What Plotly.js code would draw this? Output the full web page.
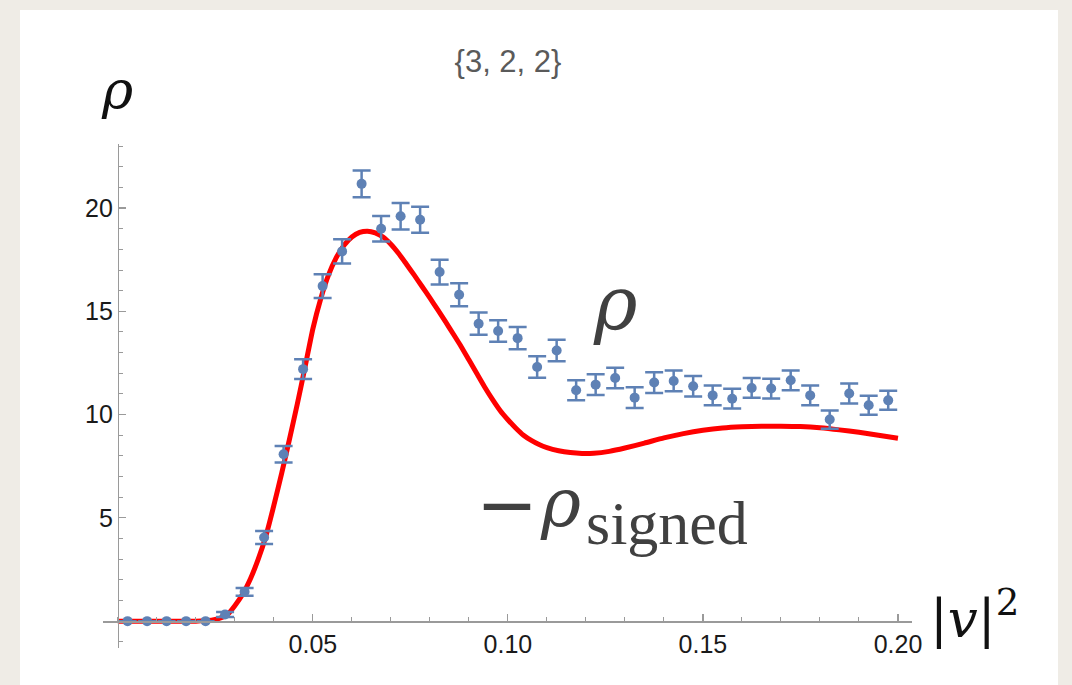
<!DOCTYPE html>
<html>
<head>
<meta charset="utf-8">
<script src="https://cdn.plot.ly/plotly-3.0.1.min.js"></script>
<style>
  html, body { margin: 0; padding: 0; background: #efece6; width: 1072px; height: 685px; overflow: hidden; }
  #panel { position: absolute; left: 20px; top: 10px; width: 1038px; height: 675px; background: #ffffff; }
  #chart { position: absolute; left: 0; top: 0; width: 1072px; height: 685px; }
</style>
</head>
<body>
<div id="panel"></div>
<div id="chart"></div>
<script>
// ---- data ----
const pointX = [0.0025,0.0075,0.0125,0.0175,0.0225,0.0275,0.0325,0.0375,0.0425,0.0475,
                0.0525,0.0575,0.0625,0.0675,0.0725,0.0775,0.0825,0.0875,0.0925,0.0975,
                0.1025,0.1075,0.1125,0.1175,0.1225,0.1275,0.1325,0.1375,0.1425,0.1475,
                0.1525,0.1575,0.1625,0.1675,0.1725,0.1775,0.1825,0.1875,0.1925,0.1975];
const pointY = [0,0,0,0,0,0.32,1.42,4.05,8.08,12.2,
                16.22,17.9,21.17,19.0,19.6,19.43,16.9,15.8,14.4,14.05,
                13.7,12.3,13.1,11.18,11.45,11.77,10.82,11.55,11.63,11.37,
                10.93,10.77,11.29,11.26,11.66,10.93,9.76,11.02,10.45,10.69];
const pointErr = [0,0,0,0,0,0.12,0.19,0.31,0.4,0.48,
                  0.58,0.59,0.65,0.62,0.64,0.63,0.6,0.56,0.54,0.52,
                  0.54,0.52,0.52,0.48,0.5,0.5,0.5,0.5,0.5,0.5,
                  0.48,0.48,0.48,0.48,0.48,0.48,0.44,0.48,0.46,0.46];

const curveX = [0,0.005,0.010,0.015,0.020,0.024,0.026,0.028,0.030,0.032,0.034,0.036,0.038,0.040,
                0.042,0.044,0.046,0.048,0.050,0.052,0.054,0.056,0.058,0.060,0.062,0.064,0.066,
                0.068,0.070,0.072,0.074,0.076,0.078,0.080,0.082,0.084,0.086,0.088,0.090,0.092,
                0.094,0.096,0.098,0.100,0.102,0.104,0.106,0.108,0.110,0.113,0.116,0.119,0.122,
                0.126,0.130,0.135,0.140,0.145,0.150,0.155,0.160,0.165,0.170,0.175,0.180,0.185,
                0.190,0.195,0.200];
const curveY = [0,0,0,0,0,0.05,0.14,0.3,0.75,1.3,2.05,3.0,4.15,5.6,
                7.15,8.8,10.5,12.3,14.15,15.6,16.75,17.6,18.2,18.6,18.82,18.88,18.8,
                18.6,18.25,17.8,17.28,16.75,16.2,15.65,15.08,14.5,13.9,13.3,12.65,12.0,
                11.35,10.75,10.2,9.75,9.35,9.0,8.75,8.55,8.4,8.25,8.16,8.12,8.13,
                8.22,8.38,8.62,8.87,9.08,9.24,9.35,9.41,9.44,9.44,9.42,9.36,9.26,
                9.14,9.0,8.85];

const xTicks = [0.05, 0.10, 0.15, 0.20];
const xTickText = ["0.05", "0.10", "0.15", "0.20"];
const yTicks = [5, 10, 15, 20];
const yTickText = ["5", "10", "15", "20"];
const titleText = "{3, 2, 2}";

// ---- layout geometry ----
const W = 1072, H = 685;
const xRange = [-0.0038, 0.2036];
const yRange = [-1.3, 23.1];
const M = { l: 103, r: 160, t: 143.5, b: 37 };
const pw = W - M.l - M.r, ph = H - M.t - M.b;
function px2paperX(px) { return (px - M.l) / pw; }
function px2paperY(py) { return (H - M.b - py) / ph; }

const blue = '#5e81b5';
const axisGrey = '#9a9a9a';
const serifMath = 'DejaVu Serif, serif';
const serifText = 'Liberation Serif, Times New Roman, serif';

const traces = [
  {
    x: curveX, y: curveY, type: 'scatter', mode: 'lines',
    line: { color: '#ff0000', width: 5, shape: 'spline', smoothing: 0.5 },
    hoverinfo: 'skip', showlegend: false
  },
  {
    x: pointX, y: pointY, type: 'scatter', mode: 'markers',
    marker: { color: blue, size: 10 },
    error_y: { type: 'data', array: pointErr, visible: true, color: blue, thickness: 2.5, width: 9 },
    showlegend: false
  }
];

function ann(text, xpx, ypx, xanchor, yanchor, family, size, color) {
  return {
    text: text, xref: 'paper', yref: 'paper',
    x: px2paperX(xpx), y: px2paperY(ypx), xanchor: xanchor, yanchor: yanchor,
    showarrow: false, font: { family: family, size: size, color: color }
  };
}

const layout = {
  width: W, height: H,
  margin: M,
  paper_bgcolor: 'rgba(0,0,0,0)',
  plot_bgcolor: 'rgba(0,0,0,0)',
  showlegend: false,
  title: {
    text: titleText,
    font: { family: 'Liberation Sans, Arial, sans-serif', size: 31, color: '#5a5a5a' },
    x: px2paperX(508), xref: 'paper', xanchor: 'center',
    y: 1 - 61 / H, yref: 'container', yanchor: 'middle'
  },
  xaxis: {
    range: xRange, showgrid: false, zeroline: false,
    showline: true, linecolor: axisGrey, linewidth: 1.5,
    anchor: 'free', position: (0 - yRange[0]) / (yRange[1] - yRange[0]),
    tickmode: 'array', tickvals: xTicks, ticktext: xTickText,
    ticks: 'inside', ticklen: 7, tickwidth: 1.2, tickcolor: axisGrey,
    minor: { dtick: 0.01, tick0: 0, ticks: 'inside', ticklen: 4, tickwidth: 1, tickcolor: axisGrey, showgrid: false },
    tickfont: { family: 'Liberation Sans, Arial, sans-serif', size: 25, color: '#1a1a1a' },
    fixedrange: true
  },
  yaxis: {
    range: yRange, showgrid: false, zeroline: false,
    showline: true, linecolor: axisGrey, linewidth: 1.5,
    anchor: 'free', position: (0 - xRange[0]) / (xRange[1] - xRange[0]),
    tickmode: 'array', tickvals: yTicks, ticktext: yTickText,
    ticks: 'inside', ticklen: 7, tickwidth: 1.2, tickcolor: axisGrey,
    minor: { dtick: 1, tick0: 0, ticks: 'inside', ticklen: 4, tickwidth: 1, tickcolor: axisGrey, showgrid: false },
    tickfont: { family: 'Liberation Sans, Arial, sans-serif', size: 25, color: '#1a1a1a' },
    fixedrange: true
  },
  annotations: [
    ann('<i>ρ</i>', 117, 89, 'center', 'middle', serifMath, 53, '#111111'),            // y axis label
    ann('|<i>v</i>|<sup>2</sup>', 928, 615, 'left', 'middle', serifMath, 53, '#111111'), // x axis label
    ann('<i>ρ</i>', 615, 303, 'center', 'middle', serifMath, 74, '#404040'),            // rho
    ann('<b>—</b>', 507, 502, 'center', 'middle', serifMath, 52, '#404040'),            // minus
    ann('<i>ρ</i>', 560, 502, 'center', 'middle', serifMath, 68, '#404040'),            // rho_signed
    ann('signed', 584, 523, 'left', 'middle', serifText, 62, '#404040')                 // subscript
  ]
};

Plotly.newPlot('chart', traces, layout, { staticPlot: true, displayModeBar: false });
</script>
</body>
</html>
